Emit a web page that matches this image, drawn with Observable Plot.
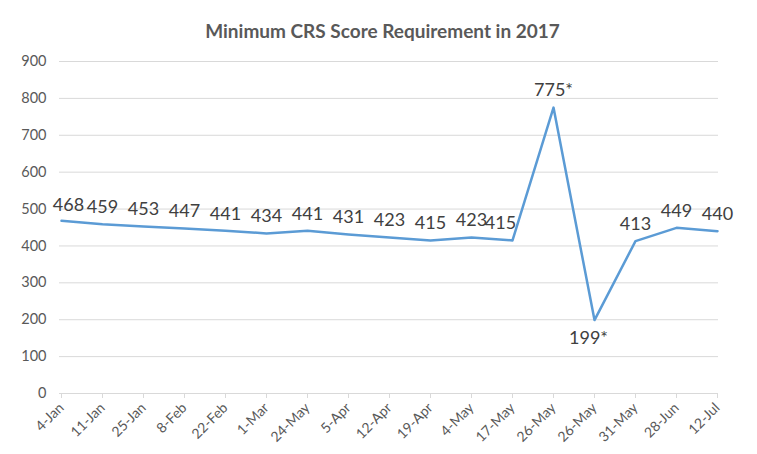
<!DOCTYPE html>
<html>
<head>
<meta charset="utf-8">
<script src="https://cdn.jsdelivr.net/npm/d3@7"></script>
<script src="https://cdn.jsdelivr.net/npm/@observablehq/plot@0.6"></script>
<style>
  html, body { margin: 0; padding: 0; background: #fff; }
  #wrap { width: 757px; height: 454px; overflow: hidden; }
  #title { height: 45px; box-sizing: border-box; padding-top: 19px; padding-left: 8px; text-align: center;
    font-family: Lato, "Open Sans", sans-serif; font-weight: bold; font-size: 19px; line-height: 23px; color: #595959; }
</style>
</head>
<body>
<div id="wrap">
  <div id="title">Minimum CRS Score Requirement in 2017</div>
  <div id="chart"></div>
</div>
<script>
const dates = ["4-Jan","11-Jan","25-Jan","8-Feb","22-Feb","1-Mar","24-May","5-Apr","12-Apr","19-Apr","4-May","17-May","26-May","26-May","31-May","28-Jun","12-Jul"];
const scores = [468,459,453,447,441,434,441,431,423,415,423,415,775,199,413,449,440];
const scoreLabels = ["468","459","453","447","441","434","441","431","423","415","423","415","775*","199*","413","449","440"];
const labelBelow = [false,false,false,false,false,false,false,false,false,false,false,false,false,true,false,false,false];
const yTicks = [0,100,200,300,400,500,600,700,800,900];

const data = dates.map((d, i) => ({i, date: d, score: scores[i], label: scoreLabels[i], below: labelBelow[i]}));

const chart = Plot.plot({
  width: 757,
  height: 409,
  marginLeft: 59,
  marginRight: 39,
  marginTop: 16,
  marginBottom: 61,
  style: {fontFamily: "Lato, 'Open Sans', sans-serif", fontSize: "14px", color: "#595959", background: "#fff"},
  x: {type: "point", domain: d3.range(dates.length), padding: 0},
  y: {domain: [0, 900]},
  marks: [
    Plot.gridY(yTicks, {stroke: "#d9d9d9", strokeOpacity: 1, strokeWidth: 1}),
    Plot.ruleY([0], {stroke: "#d9d9d9", strokeWidth: 1}),
    Plot.axisY({ticks: yTicks, tickSize: 0, tickPadding: 13, label: null, fontSize: 14.5, fill: "#595959"}),
    Plot.axisX({ticks: d3.range(dates.length), tickFormat: i => dates[i], tickSize: 5, stroke: "#d9d9d9",
      tickRotate: -45, tickPadding: 7, label: null, fontSize: 14, fill: "#595959"}),
    Plot.line(data, {x: "i", y: "score", stroke: "#5B9BD5", strokeWidth: 2.5}),
    Plot.text(data.filter(d => !d.below && d.i === 0), {x: "i", y: "score", text: "label", dy: -16, dx: 7, fontSize: 18, fill: "#404040"}),
    Plot.text(data.filter(d => !d.below && d.i > 0 && d.i !== 11), {x: "i", y: "score", text: "label", dy: -17, fontSize: 18, fill: "#404040"}),
    Plot.text(data.filter(d => !d.below && d.i === 11), {x: "i", y: "score", text: "label", dy: -17, dx: -12, fontSize: 18, fill: "#404040"}),
    Plot.text(data.filter(d => d.below), {x: "i", y: "score", text: "label", dy: 18, dx: -6, fontSize: 18, fill: "#404040"})
  ]
});
document.getElementById("chart").appendChild(chart);
</script>
</body>
</html>
